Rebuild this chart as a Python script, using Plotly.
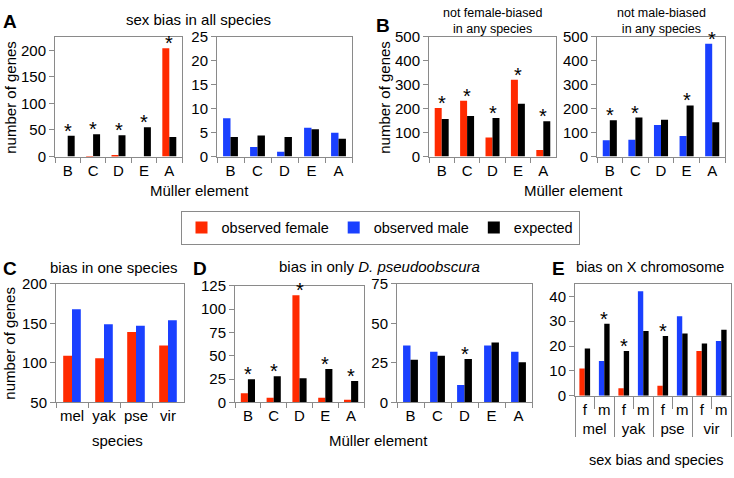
import plotly.graph_objects as go

W, H = 734, 478

# ---------------- data ----------------
elements = ["B", "C", "D", "E", "A"]

a_female = [0, 1, 3, 0, 204]
a_female_exp = [39, 42, 40, 55, 37]
a_female_sig = [True, True, True, True, True]
a_male = [8, 2, 1, 6, 5]
a_male_exp = [4.1, 4.4, 4.1, 5.7, 3.7]
a_male_sig = [False, False, False, False, False]

b_female = [203, 233, 80, 321, 27]
b_female_exp = [157, 170, 161, 221, 148]
b_female_sig = [True, True, True, True, True]
b_male = [68, 70, 132, 86, 472]
b_male_exp = [152, 163, 154, 214, 143]
b_male_sig = [True, True, False, True, True]

species = ["mel", "yak", "pse", "vir"]
c_female = [109, 106, 139, 122]
c_male = [168, 149, 147, 154]

d_female = [10, 5, 115, 5, 3]
d_female_exp = [25, 28, 26, 36, 23]
d_female_sig = [True, True, True, True, True]
d_male = [36, 32, 11, 36, 32]
d_male_exp = [27, 29.5, 27.5, 38, 25.5]
d_male_sig = [False, False, True, False, False]

e_species = ["mel", "mel", "yak", "yak", "pse", "pse", "vir", "vir"]
e_sex = ["f", "m", "f", "m", "f", "m", "f", "m"]
e_observed = [11, 14, 3, 42, 4, 32, 18, 22]
e_expected = [19, 29, 18, 26, 24, 25, 21, 26.5]
e_sig = [False, True, True, False, True, False, False, False]

# ---------------- style ----------------
RED = "#FF2A00"
BLUE = "#1A40FF"
BLACK = "#000000"
GRAY = "#8a8a8a"
FONT = "Liberation Sans, Arial, sans-serif"


def px(x):
    return x / W


def py(y):
    return 1 - y / H


fig = go.Figure()

# panel geometry: (x0, x1, ytop, ybottom, yrange, dtick)
panels = {
    1: (55, 182, 29, 153, [0, 225], 50),
    2: (217, 352, 29, 153, [0, 25], 5),
    3: (429, 556, 29, 153, [0, 500], 100),
    4: (597, 725, 29, 153, [0, 500], 100),
    5: (56, 184, 285, 408, [50, 200], 50),
    6: (235, 364, 287, 408, [0, 125], 25),
    7: (397, 532, 285, 408, [0, 75], 25),
    8: (575, 731, 285, 401, [0, 45], 10),
}

shown = set()


def ax(i, kind):
    return kind if i == 1 else f"{kind}{i}"


def add_bar(i, x, y, color, name, rank, legend=True):
    sl = legend and name not in shown
    if legend:
        shown.add(name)
    fig.add_trace(go.Bar(
        x=x, y=y, marker=dict(color=color, line=dict(width=0)), name=name,
        showlegend=sl, legendrank=rank, legendgroup=name,
        xaxis=ax(i, "x"), yaxis=ax(i, "y"), hoverinfo="x+y",
    ))


def add_stars(i, obs, exp, sig):
    for k, (o, e, s) in enumerate(zip(obs, exp, sig)):
        if s:
            fig.add_annotation(
                x=k, y=max(o, e), xref=ax(i, "x"), yref=ax(i, "y"),
                text="*", showarrow=False, yanchor="middle", xanchor="center",
                yshift=5, font=dict(size=20, family=FONT, color="black"),
            )


add_bar(1, elements, a_female, RED, "observed female", 1)
add_bar(1, elements, a_female_exp, BLACK, "expected", 3)
add_stars(1, a_female, a_female_exp, a_female_sig)
add_bar(2, elements, a_male, BLUE, "observed male", 2)
add_bar(2, elements, a_male_exp, BLACK, "expected", 3)
add_stars(2, a_male, a_male_exp, a_male_sig)

add_bar(3, elements, b_female, RED, "observed female", 1)
add_bar(3, elements, b_female_exp, BLACK, "expected", 3)
add_stars(3, b_female, b_female_exp, b_female_sig)
add_bar(4, elements, b_male, BLUE, "observed male", 2)
add_bar(4, elements, b_male_exp, BLACK, "expected", 3)
add_stars(4, b_male, b_male_exp, b_male_sig)

add_bar(5, species, c_female, RED, "observed female", 1)
add_bar(5, species, c_male, BLUE, "observed male", 2)

add_bar(6, elements, d_female, RED, "observed female", 1)
add_bar(6, elements, d_female_exp, BLACK, "expected", 3)
add_stars(6, d_female, d_female_exp, d_female_sig)
add_bar(7, elements, d_male, BLUE, "observed male", 2)
add_bar(7, elements, d_male_exp, BLACK, "expected", 3)
add_stars(7, d_male, d_male_exp, d_male_sig)

e_x = [e_species, e_sex]
e_colors = [RED if s == "f" else BLUE for s in e_sex]
add_bar(8, e_x, e_observed, e_colors, "observed", 9, legend=False)
add_bar(8, e_x, e_expected, BLACK, "expected", 3)
add_stars(8, e_observed, e_expected, e_sig)

layout = dict(
    width=W, height=H, autosize=False,
    margin=dict(l=0, r=0, t=0, b=0),
    paper_bgcolor="white", plot_bgcolor="white",
    font=dict(family=FONT, size=14, color="black"),
    barmode="group", bargap=0.45, bargroupgap=0,
    showlegend=True,
    legend=dict(
        orientation="h", x=px(380), xanchor="center", y=py(209), yanchor="top",
        bordercolor=GRAY, borderwidth=1, font=dict(size=14.5, family=FONT),
        bgcolor="white", traceorder="normal",
    ),
)

for i, (x0, x1, yt, yb, yr, dt) in panels.items():
    layout[ax(i, "xaxis")] = dict(
        domain=[px(x0), px(x1)], anchor=ax(i, "y"),
        showline=True, linecolor=GRAY, linewidth=1, mirror=True,
        ticks="outside", tickson="boundaries", ticklen=5, tickcolor=GRAY,
        tickfont=dict(size=15), tickangle=0, showgrid=False, fixedrange=True,
    )
    layout[ax(i, "yaxis")] = dict(
        domain=[py(yb), py(yt)], anchor=ax(i, "x"), range=yr, dtick=dt,
        showline=True, linecolor=GRAY, linewidth=1, mirror=True,
        ticks="outside", ticklen=5, tickcolor=GRAY, tickfont=dict(size=15),
        showgrid=False, zeroline=False, fixedrange=True,
    )

layout["xaxis8"].update(ticklen=12, showdividers=True, dividercolor=GRAY, dividerwidth=1)

fig.update_layout(**layout)


def text(x, y, s, size=15, bold=False, angle=0, xanchor="center"):
    fig.add_annotation(
        x=px(x), y=py(y), xref="paper", yref="paper", text=(f"<b>{s}</b>" if bold else s),
        showarrow=False, font=dict(size=size, family=FONT, color="black"),
        xanchor=xanchor, yanchor="middle", textangle=angle,
    )


# panel letters
text(10, 13, "A", 19, bold=True)
text(383, 17, "B", 19, bold=True)
text(10, 269, "C", 19, bold=True)
text(200, 269, "D", 19, bold=True)
text(558, 269, "E", 19, bold=True)

# titles
text(198, 11, "sex bias in all species")
text(492, 12.5, "not female-biased<br>in any species", 12.5)
text(661, 12.5, "not male-biased<br>in any species", 12.5)
text(114, 268, "bias in one species")
text(379, 267, "bias in only <i>D. pseudoobscura</i>")
text(574, 268, "bias on X chromosome", 14.5, xanchor="left")

# axis titles
text(11, 92, "number of genes", angle=-90)
text(385, 92, "number of genes", angle=-90)
text(10, 347, "number of genes", angle=-90)
text(199, 188, "Müller element")
text(573, 188, "Müller element")
text(117, 447, "species")
text(378, 447, "Müller element")
text(656, 468, "sex bias and species", 14.5)

fig.write_html("out.html", config={"displayModeBar": False},
               post_script="document.body.style.margin='0';")
